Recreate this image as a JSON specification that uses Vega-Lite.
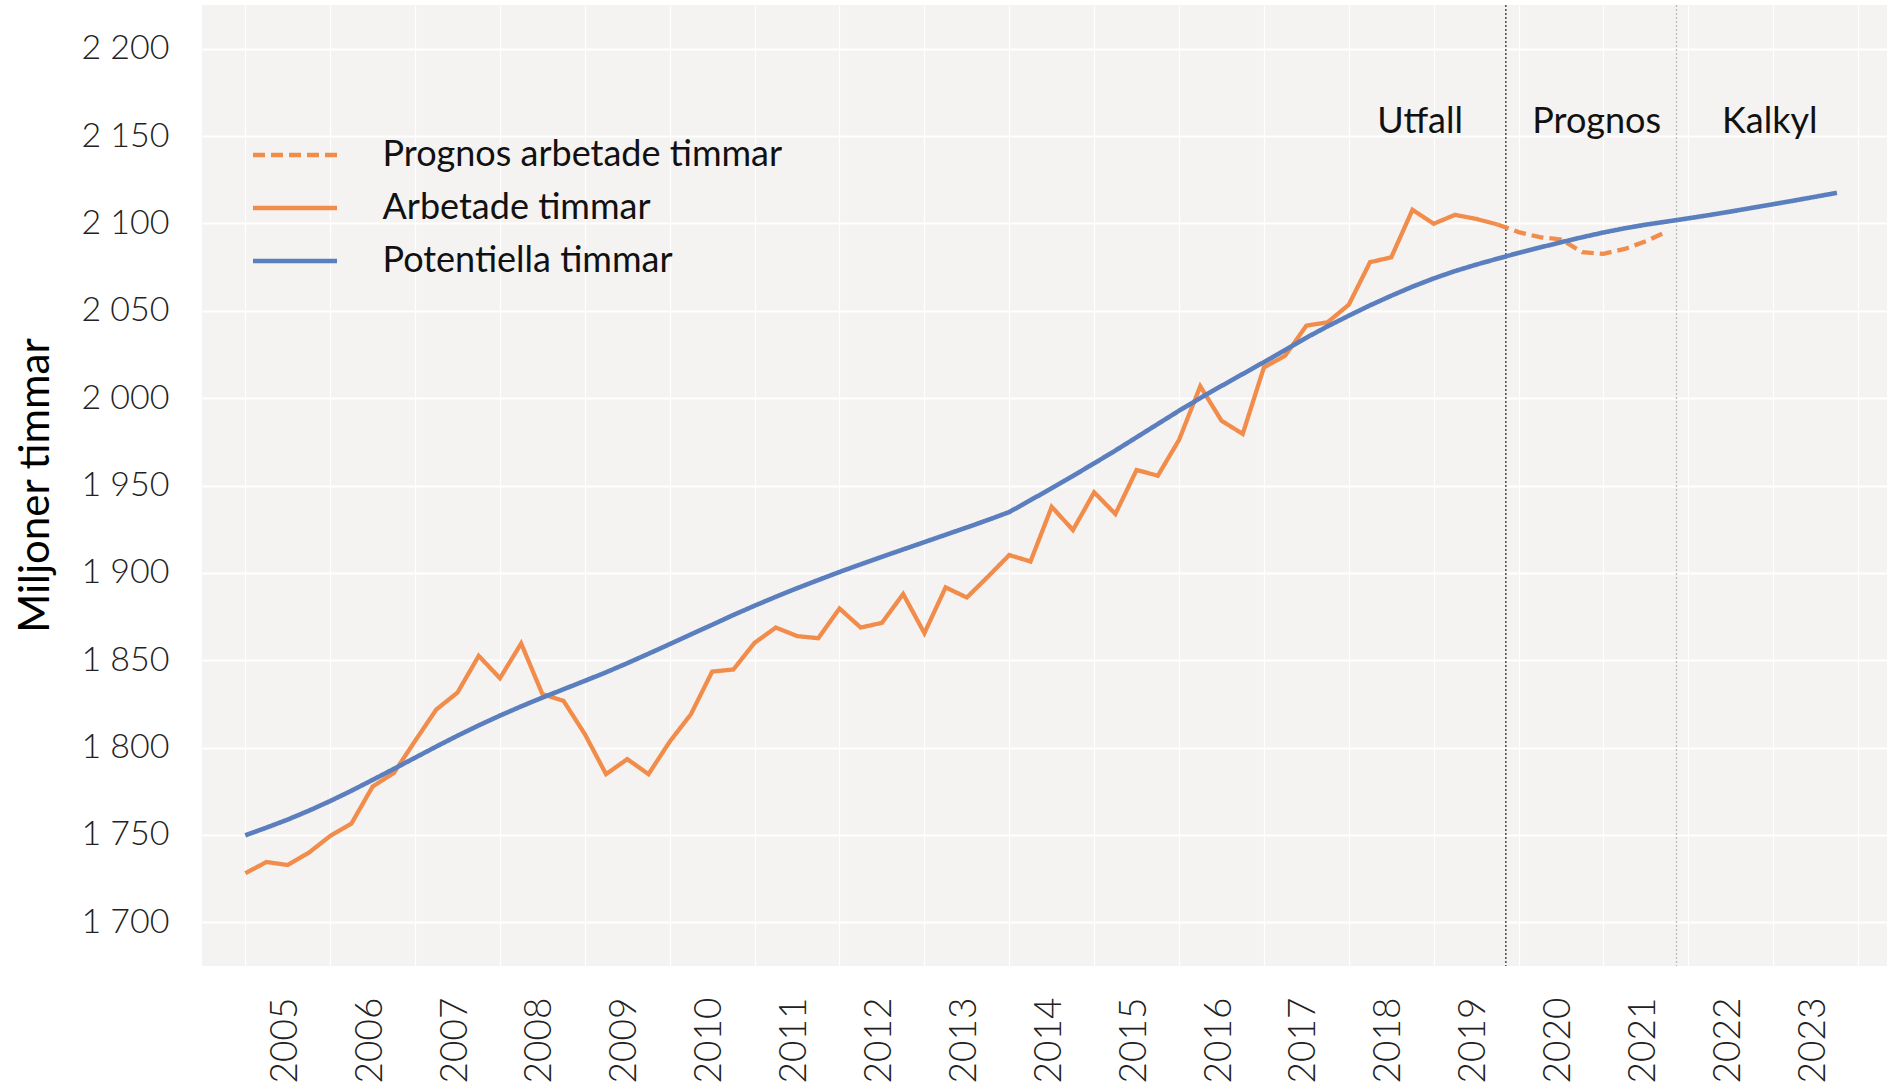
{
  "$schema": "https://vega.github.io/schema/vega-lite/v6.json",
  "width": 1685,
  "height": 961,
  "autosize": {"type": "none"},
  "padding": {"left": 202, "top": 5, "right": 0, "bottom": 118},
  "background": "white",
  "config": {
    "view": {"fill": "#F4F3F1", "stroke": null},
    "font": "Lato",
    "axis": {"domain": false, "ticks": false, "tickSize": 0, "gridColor": "#FFFFFF", "labelFont": "Lato", "labelColor": "#222222"}
  },
  "datasets": {
    "hours": [
      {"t": 2005.00, "v": 1728.1, "s": "Arbetade timmar"},
      {"t": 2005.25, "v": 1734.5, "s": "Arbetade timmar"},
      {"t": 2005.50, "v": 1732.8, "s": "Arbetade timmar"},
      {"t": 2005.75, "v": 1739.9, "s": "Arbetade timmar"},
      {"t": 2006.00, "v": 1749.4, "s": "Arbetade timmar"},
      {"t": 2006.25, "v": 1756.5, "s": "Arbetade timmar"},
      {"t": 2006.50, "v": 1777.7, "s": "Arbetade timmar"},
      {"t": 2006.75, "v": 1785.5, "s": "Arbetade timmar"},
      {"t": 2007.00, "v": 1803.8, "s": "Arbetade timmar"},
      {"t": 2007.25, "v": 1821.8, "s": "Arbetade timmar"},
      {"t": 2007.50, "v": 1831.5, "s": "Arbetade timmar"},
      {"t": 2007.75, "v": 1852.5, "s": "Arbetade timmar"},
      {"t": 2008.00, "v": 1839.7, "s": "Arbetade timmar"},
      {"t": 2008.25, "v": 1859.6, "s": "Arbetade timmar"},
      {"t": 2008.50, "v": 1830.6, "s": "Arbetade timmar"},
      {"t": 2008.75, "v": 1826.7, "s": "Arbetade timmar"},
      {"t": 2009.00, "v": 1807.7, "s": "Arbetade timmar"},
      {"t": 2009.25, "v": 1784.8, "s": "Arbetade timmar"},
      {"t": 2009.50, "v": 1793.4, "s": "Arbetade timmar"},
      {"t": 2009.75, "v": 1784.8, "s": "Arbetade timmar"},
      {"t": 2010.00, "v": 1803.4, "s": "Arbetade timmar"},
      {"t": 2010.25, "v": 1819.1, "s": "Arbetade timmar"},
      {"t": 2010.50, "v": 1843.5, "s": "Arbetade timmar"},
      {"t": 2010.75, "v": 1844.7, "s": "Arbetade timmar"},
      {"t": 2011.00, "v": 1860.0, "s": "Arbetade timmar"},
      {"t": 2011.25, "v": 1868.7, "s": "Arbetade timmar"},
      {"t": 2011.50, "v": 1863.8, "s": "Arbetade timmar"},
      {"t": 2011.75, "v": 1862.6, "s": "Arbetade timmar"},
      {"t": 2012.00, "v": 1879.6, "s": "Arbetade timmar"},
      {"t": 2012.25, "v": 1868.7, "s": "Arbetade timmar"},
      {"t": 2012.50, "v": 1871.4, "s": "Arbetade timmar"},
      {"t": 2012.75, "v": 1887.9, "s": "Arbetade timmar"},
      {"t": 2013.00, "v": 1865.5, "s": "Arbetade timmar"},
      {"t": 2013.25, "v": 1891.7, "s": "Arbetade timmar"},
      {"t": 2013.50, "v": 1885.9, "s": "Arbetade timmar"},
      {"t": 2013.75, "v": 1897.9, "s": "Arbetade timmar"},
      {"t": 2014.00, "v": 1910.2, "s": "Arbetade timmar"},
      {"t": 2014.25, "v": 1906.5, "s": "Arbetade timmar"},
      {"t": 2014.50, "v": 1937.8, "s": "Arbetade timmar"},
      {"t": 2014.75, "v": 1924.5, "s": "Arbetade timmar"},
      {"t": 2015.00, "v": 1946.1, "s": "Arbetade timmar"},
      {"t": 2015.25, "v": 1933.7, "s": "Arbetade timmar"},
      {"t": 2015.50, "v": 1958.9, "s": "Arbetade timmar"},
      {"t": 2015.75, "v": 1955.6, "s": "Arbetade timmar"},
      {"t": 2016.00, "v": 1976.1, "s": "Arbetade timmar"},
      {"t": 2016.25, "v": 2006.8, "s": "Arbetade timmar"},
      {"t": 2016.50, "v": 1987.1, "s": "Arbetade timmar"},
      {"t": 2016.75, "v": 1979.5, "s": "Arbetade timmar"},
      {"t": 2017.00, "v": 2017.6, "s": "Arbetade timmar"},
      {"t": 2017.25, "v": 2024.3, "s": "Arbetade timmar"},
      {"t": 2017.50, "v": 2041.5, "s": "Arbetade timmar"},
      {"t": 2017.75, "v": 2043.4, "s": "Arbetade timmar"},
      {"t": 2018.00, "v": 2053.5, "s": "Arbetade timmar"},
      {"t": 2018.25, "v": 2077.8, "s": "Arbetade timmar"},
      {"t": 2018.50, "v": 2080.6, "s": "Arbetade timmar"},
      {"t": 2018.75, "v": 2107.8, "s": "Arbetade timmar"},
      {"t": 2019.00, "v": 2099.8, "s": "Arbetade timmar"},
      {"t": 2019.25, "v": 2104.9, "s": "Arbetade timmar"},
      {"t": 2019.50, "v": 2102.6, "s": "Arbetade timmar"},
      {"t": 2019.75, "v": 2099.4, "s": "Arbetade timmar"},
      {"t": 2019.75, "v": 2099.4, "s": "Prognos arbetade timmar"},
      {"t": 2020.00, "v": 2095.0, "s": "Prognos arbetade timmar"},
      {"t": 2020.25, "v": 2092.1, "s": "Prognos arbetade timmar"},
      {"t": 2020.50, "v": 2090.8, "s": "Prognos arbetade timmar"},
      {"t": 2020.75, "v": 2083.5, "s": "Prognos arbetade timmar"},
      {"t": 2021.00, "v": 2082.6, "s": "Prognos arbetade timmar"},
      {"t": 2021.25, "v": 2085.4, "s": "Prognos arbetade timmar"},
      {"t": 2021.50, "v": 2089.8, "s": "Prognos arbetade timmar"},
      {"t": 2021.75, "v": 2095.4, "s": "Prognos arbetade timmar"},
      {"t": 2005.00, "v": 1749.8, "s": "Potentiella timmar"},
      {"t": 2005.25, "v": 1754.2, "s": "Potentiella timmar"},
      {"t": 2005.50, "v": 1758.8, "s": "Potentiella timmar"},
      {"t": 2005.75, "v": 1763.9, "s": "Potentiella timmar"},
      {"t": 2006.00, "v": 1769.4, "s": "Potentiella timmar"},
      {"t": 2006.25, "v": 1775.3, "s": "Potentiella timmar"},
      {"t": 2006.50, "v": 1781.5, "s": "Potentiella timmar"},
      {"t": 2006.75, "v": 1787.8, "s": "Potentiella timmar"},
      {"t": 2007.00, "v": 1794.2, "s": "Potentiella timmar"},
      {"t": 2007.25, "v": 1800.6, "s": "Potentiella timmar"},
      {"t": 2007.50, "v": 1806.8, "s": "Potentiella timmar"},
      {"t": 2007.75, "v": 1812.7, "s": "Potentiella timmar"},
      {"t": 2008.00, "v": 1818.3, "s": "Potentiella timmar"},
      {"t": 2008.25, "v": 1823.6, "s": "Potentiella timmar"},
      {"t": 2008.50, "v": 1828.6, "s": "Potentiella timmar"},
      {"t": 2008.75, "v": 1833.4, "s": "Potentiella timmar"},
      {"t": 2009.00, "v": 1838.2, "s": "Potentiella timmar"},
      {"t": 2009.25, "v": 1843.1, "s": "Potentiella timmar"},
      {"t": 2009.50, "v": 1848.3, "s": "Potentiella timmar"},
      {"t": 2009.75, "v": 1853.7, "s": "Potentiella timmar"},
      {"t": 2010.00, "v": 1859.2, "s": "Potentiella timmar"},
      {"t": 2010.25, "v": 1864.8, "s": "Potentiella timmar"},
      {"t": 2010.50, "v": 1870.3, "s": "Potentiella timmar"},
      {"t": 2010.75, "v": 1875.9, "s": "Potentiella timmar"},
      {"t": 2011.00, "v": 1881.2, "s": "Potentiella timmar"},
      {"t": 2011.25, "v": 1886.3, "s": "Potentiella timmar"},
      {"t": 2011.50, "v": 1891.2, "s": "Potentiella timmar"},
      {"t": 2011.75, "v": 1895.9, "s": "Potentiella timmar"},
      {"t": 2012.00, "v": 1900.5, "s": "Potentiella timmar"},
      {"t": 2012.25, "v": 1904.9, "s": "Potentiella timmar"},
      {"t": 2012.50, "v": 1909.2, "s": "Potentiella timmar"},
      {"t": 2012.75, "v": 1913.4, "s": "Potentiella timmar"},
      {"t": 2013.00, "v": 1917.6, "s": "Potentiella timmar"},
      {"t": 2013.25, "v": 1921.8, "s": "Potentiella timmar"},
      {"t": 2013.50, "v": 1926.0, "s": "Potentiella timmar"},
      {"t": 2013.75, "v": 1930.3, "s": "Potentiella timmar"},
      {"t": 2014.00, "v": 1934.8, "s": "Potentiella timmar"},
      {"t": 2014.25, "v": 1941.6, "s": "Potentiella timmar"},
      {"t": 2014.50, "v": 1948.5, "s": "Potentiella timmar"},
      {"t": 2014.75, "v": 1955.5, "s": "Potentiella timmar"},
      {"t": 2015.00, "v": 1962.7, "s": "Potentiella timmar"},
      {"t": 2015.25, "v": 1970.0, "s": "Potentiella timmar"},
      {"t": 2015.50, "v": 1977.6, "s": "Potentiella timmar"},
      {"t": 2015.75, "v": 1985.2, "s": "Potentiella timmar"},
      {"t": 2016.00, "v": 1992.8, "s": "Potentiella timmar"},
      {"t": 2016.25, "v": 2000.0, "s": "Potentiella timmar"},
      {"t": 2016.50, "v": 2007.0, "s": "Potentiella timmar"},
      {"t": 2016.75, "v": 2013.8, "s": "Potentiella timmar"},
      {"t": 2017.00, "v": 2020.6, "s": "Potentiella timmar"},
      {"t": 2017.25, "v": 2027.6, "s": "Potentiella timmar"},
      {"t": 2017.50, "v": 2034.6, "s": "Potentiella timmar"},
      {"t": 2017.75, "v": 2041.1, "s": "Potentiella timmar"},
      {"t": 2018.00, "v": 2047.2, "s": "Potentiella timmar"},
      {"t": 2018.25, "v": 2053.1, "s": "Potentiella timmar"},
      {"t": 2018.50, "v": 2058.6, "s": "Potentiella timmar"},
      {"t": 2018.75, "v": 2063.8, "s": "Potentiella timmar"},
      {"t": 2019.00, "v": 2068.5, "s": "Potentiella timmar"},
      {"t": 2019.25, "v": 2072.7, "s": "Potentiella timmar"},
      {"t": 2019.50, "v": 2076.4, "s": "Potentiella timmar"},
      {"t": 2019.75, "v": 2079.8, "s": "Potentiella timmar"},
      {"t": 2020.00, "v": 2083.1, "s": "Potentiella timmar"},
      {"t": 2020.25, "v": 2086.2, "s": "Potentiella timmar"},
      {"t": 2020.50, "v": 2089.2, "s": "Potentiella timmar"},
      {"t": 2020.75, "v": 2092.1, "s": "Potentiella timmar"},
      {"t": 2021.00, "v": 2094.8, "s": "Potentiella timmar"},
      {"t": 2021.25, "v": 2097.2, "s": "Potentiella timmar"},
      {"t": 2021.50, "v": 2099.3, "s": "Potentiella timmar"},
      {"t": 2021.75, "v": 2101.1, "s": "Potentiella timmar"},
      {"t": 2022.00, "v": 2102.9, "s": "Potentiella timmar"},
      {"t": 2022.25, "v": 2104.8, "s": "Potentiella timmar"},
      {"t": 2022.50, "v": 2106.8, "s": "Potentiella timmar"},
      {"t": 2022.75, "v": 2108.9, "s": "Potentiella timmar"},
      {"t": 2023.00, "v": 2111.0, "s": "Potentiella timmar"},
      {"t": 2023.25, "v": 2113.1, "s": "Potentiella timmar"},
      {"t": 2023.50, "v": 2115.3, "s": "Potentiella timmar"},
      {"t": 2023.75, "v": 2117.5, "s": "Potentiella timmar"}
    ]
  },
  "layer": [
    {
      "data": {"values": [{"t": 2019.85}]},
      "mark": {"type": "rule", "color": "#333333", "strokeWidth": 1.3, "strokeDash": [2, 2]},
      "encoding": {
        "x": {"field": "t", "type": "quantitative", "scale": {"domain": [2004.49, 2024.34], "nice": false, "zero": false}}
      }
    },
    {
      "data": {"values": [{"t": 2021.86}]},
      "mark": {"type": "rule", "color": "#BBBBBB", "strokeWidth": 1.3, "strokeDash": [2, 2]},
      "encoding": {
        "x": {"field": "t", "type": "quantitative"}
      }
    },
    {
      "data": {"name": "hours"},
      "transform": [{"filter": "datum.s != 'Potentiella timmar'"}],
      "mark": {"type": "line", "strokeWidth": 4.3, "strokeJoin": "miter"},
      "encoding": {
        "x": {
          "field": "t", "type": "quantitative",
          "axis": {
            "title": null,
            "values": [2005, 2006, 2007, 2008, 2009, 2010, 2011, 2012, 2013, 2014, 2015, 2016, 2017, 2018, 2019, 2020, 2021, 2022, 2023, 2024],
            "format": "d",
            "labelExpr": "datum.value > 2023 ? '' : datum.label",
            "labelAngle": 270,
            "labelAlign": "center",
            "labelBaseline": "middle",
            "labelPadding": 74,
            "labelOffset": 40,
            "labelFontSize": 37,
            "labelFontWeight": 300,
            "labelFlush": false,
            "labelOverlap": false,
            "grid": true,
            "gridWidth": 1.3
          }
        },
        "y": {
          "field": "v", "type": "quantitative",
          "scale": {"domain": [1675, 2225], "nice": false, "zero": false},
          "axis": {
            "values": [1700, 1750, 1800, 1850, 1900, 1950, 2000, 2050, 2100, 2150, 2200],
            "labelExpr": "replace(format(datum.value, ','), ',', ' ')",
            "labelFontSize": 34,
            "labelFontWeight": 300,
            "labelPadding": 33,
            "gridWidth": 2,
            "title": "Miljoner timmar",
            "titleFontSize": 42,
            "titleFontWeight": "normal",
            "titleColor": "#000000",
            "titleAngle": 270,
            "titleX": -154,
            "titleY": 480,
            "titleAlign": "center",
            "titleBaseline": "alphabetic"
          }
        },
        "color": {
          "field": "s", "type": "nominal",
          "scale": {"domain": ["Prognos arbetade timmar", "Arbetade timmar", "Potentiella timmar"], "range": ["#F18C4B", "#F18C4B", "#5A7EBE"]},
          "legend": {"title": null, "orient": "none", "legendX": 48.5, "legendY": 130, "padding": 0, "clipHeight": 40, "rowPadding": 13, "symbolType": "stroke", "symbolSize": 7056, "symbolStrokeWidth": 4.5, "labelOffset": 43, "labelFontSize": 36, "labelFont": "Lato", "labelColor": "#111111", "labelLimit": 600}
        },
        "strokeDash": {
          "field": "s", "type": "nominal",
          "scale": {"domain": ["Prognos arbetade timmar", "Arbetade timmar", "Potentiella timmar"], "range": [[12, 6], [1, 0], [1, 0]]},
          "legend": {"title": null, "orient": "none", "legendX": 48.5, "legendY": 130, "padding": 0, "clipHeight": 40, "rowPadding": 13, "symbolType": "stroke", "symbolSize": 7056, "symbolStrokeWidth": 4.5, "labelOffset": 43, "labelFontSize": 36, "labelFont": "Lato", "labelColor": "#111111", "labelLimit": 600}
        }
      }
    },
    {
      "data": {"name": "hours"},
      "transform": [{"filter": "datum.s == 'Potentiella timmar'"}],
      "mark": {"type": "line", "strokeWidth": 4.6},
      "encoding": {
        "x": {"field": "t", "type": "quantitative"},
        "y": {"field": "v", "type": "quantitative"},
        "color": {"field": "s", "type": "nominal"},
        "strokeDash": {"field": "s", "type": "nominal"}
      }
    },
    {
      "data": {"values": [
        {"t": 2018.84, "v": 2151.5, "label": "Utfall"},
        {"t": 2020.92, "v": 2151.5, "label": "Prognos"},
        {"t": 2022.96, "v": 2151.5, "label": "Kalkyl"}
      ]},
      "mark": {"type": "text", "fontSize": 36, "font": "Lato", "color": "#111111", "align": "center", "baseline": "alphabetic"},
      "encoding": {
        "x": {"field": "t", "type": "quantitative"},
        "y": {"field": "v", "type": "quantitative"},
        "text": {"field": "label"}
      }
    }
  ]
}
